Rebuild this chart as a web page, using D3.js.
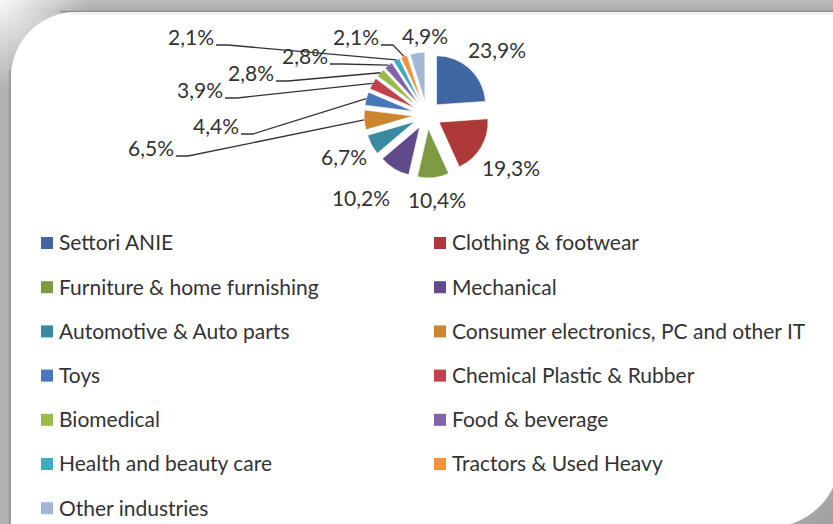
<!DOCTYPE html>
<html>
<head>
<meta charset="utf-8">
<script src="https://cdn.jsdelivr.net/npm/d3@7"></script>
<style>
  body { margin: 0; background: #fff; }
  svg { display: block; }
  text { font-family: Lato, "Open Sans", sans-serif; fill: #333; }
</style>
</head>
<body>
<svg id="chart" width="833" height="524"></svg>
<script>
// ---- data ----
const categories = [
  "Settori ANIE", "Clothing & footwear", "Furniture & home furnishing", "Mechanical",
  "Automotive & Auto parts", "Consumer electronics, PC and other IT", "Toys",
  "Chemical Plastic & Rubber", "Biomedical", "Food & beverage",
  "Health and beauty care", "Tractors & Used Heavy", "Other industries"
];
const values = [23.9, 19.3, 10.4, 10.2, 6.7, 6.5, 4.4, 3.9, 2.8, 2.8, 2.1, 2.1, 4.9];
const colors = [
  "#3F66A0", "#AC3838", "#7C9B43", "#614A8C", "#3A89A3", "#CC842F", "#4878BB",
  "#C2414A", "#9BBA49", "#7F62AA", "#3FAAC2", "#F0923C", "#A2B6D8"
];
const fmt = v => d3.format(".1f")(v).replace(".", ",") + "%";

// ---- layout ----
const W = 833, H = 524;
const cx = 427, cy = 115, R = 49, explode = 14;
// label anchor centers (layout) and whether a leader line is drawn
const labelLayout = [
  [497, 51, false], [511, 169, false], [437, 201, false], [361, 199, false],
  [344, 158, false], [151, 149, true], [216, 127, true], [200, 91, true],
  [251, 74, true], [305, 57, true], [191, 38, true], [356, 38, true], [425, 37, false]
];

const svg = d3.select("#chart");
const defs = svg.append("defs");

// ---- frame ----
const gTop = defs.append("linearGradient").attr("id", "gTop").attr("x1", 0).attr("y1", 0).attr("x2", 0).attr("y2", 1);
gTop.append("stop").attr("offset", "0%").attr("stop-color", "#bdbdbd");
gTop.append("stop").attr("offset", "100%").attr("stop-color", "#a9a9a9");
const gHi = defs.append("radialGradient").attr("id", "gHi")
  .attr("cx", 0).attr("cy", 0).attr("r", 90).attr("gradientUnits", "userSpaceOnUse");
gHi.append("stop").attr("offset", "0%").attr("stop-color", "#fff").attr("stop-opacity", 0.9);
gHi.append("stop").attr("offset", "100%").attr("stop-color", "#fff").attr("stop-opacity", 0);
const gBR = defs.append("linearGradient").attr("id", "gBR").attr("x1", 0).attr("y1", 0).attr("x2", 1).attr("y2", 1);
gBR.append("stop").attr("offset", "0%").attr("stop-color", "#d0d0d0");
gBR.append("stop").attr("offset", "100%").attr("stop-color", "#9e9e9e");

svg.append("rect").attr("width", W).attr("height", H).attr("fill", "#ababab");
svg.append("rect").attr("width", W).attr("height", 12).attr("fill", "url(#gTop)");
svg.append("rect").attr("x", 0).attr("y", 0).attr("width", 8).attr("height", H).attr("fill", "#b2b2b2");
svg.append("rect").attr("x", 740).attr("y", 440).attr("width", 93).attr("height", 84).attr("fill", "url(#gBR)");
svg.append("rect").attr("width", 120).attr("height", 120).attr("fill", "url(#gHi)");
svg.append("line").attr("x1", 60).attr("x2", W).attr("y1", 11.5).attr("y2", 11.5).attr("stroke", "#8e8e8e").attr("stroke-width", 1.5);
svg.append("line").attr("x1", 10).attr("x2", 10).attr("y1", 70).attr("y2", H).attr("stroke", "#969696").attr("stroke-width", 1.5);

const panelPath = "M11,77 A65,65 0 0 1 76,12 H840 V457 A70,70 0 0 1 770,527 H11 Z";
svg.append("path").attr("d", panelPath).attr("fill", "#fff");
svg.append("rect").attr("x", 70).attr("y", 12).attr("width", W).attr("height", 3).attr("fill", "#f2f2f2");

// ---- pie ----
const pie = d3.pie().value(d => d.value).sort(null);
const arcs = pie(categories.map((c, i) => ({ cat: c, value: values[i], color: colors[i], i })));
const arc = d3.arc().innerRadius(0).outerRadius(R);

const g = svg.append("g").attr("transform", `translate(${cx},${cy})`);
const dirOf = a => {
  const m = (a.startAngle + a.endAngle) / 2;
  return [Math.sin(m), -Math.cos(m)];
};

g.selectAll("path.slice").data(arcs).join("path")
  .attr("class", "slice")
  .attr("d", arc)
  .attr("fill", d => d.data.color)
  .attr("stroke", "#fff").attr("stroke-width", 0.6)
  .attr("transform", d => {
    const [dx, dy] = dirOf(d);
    return `translate(${dx * explode},${dy * explode})`;
  });

// ---- labels ----
const labels = svg.append("g");
arcs.forEach((a, i) => {
  const [lx, ly, leader] = labelLayout[i];
  const t = labels.append("text")
    .attr("x", lx).attr("y", ly).attr("dy", "0.35em")
    .attr("text-anchor", "middle")
    .style("font-size", "21px")
    .text(fmt(a.data.value));
  if (leader) {
    const w = t.node().getComputedTextLength();
    const [dx, dy] = dirOf(a);
    const ex = cx + dx * (explode + R);
    const ey = cy + dy * (explode + R);
    const sx = lx + w / 2 + 2, sy = ly + 7;
    labels.append("path")
      .attr("d", d3.line()([[sx, sy], [sx + 12, sy], [ex, ey]]))
      .attr("fill", "none").attr("stroke", "#333").attr("stroke-width", 1.3);
  }
});

// ---- legend ----
const legX = [41, 434], legY0 = 243, legDy = 44.2, sq = 12;
const leg = svg.append("g").selectAll("g").data(categories).join("g")
  .attr("transform", (d, i) => `translate(${legX[i % 2]},${legY0 + Math.floor(i / 2) * legDy})`);
leg.append("rect").attr("x", 0).attr("y", -sq / 2).attr("width", sq).attr("height", sq)
  .attr("fill", (d, i) => colors[i]);
leg.append("text").attr("x", 18).attr("y", 0).attr("dy", "0.35em")
  .style("font-size", "21px").text(d => d);
</script>
</body>
</html>
